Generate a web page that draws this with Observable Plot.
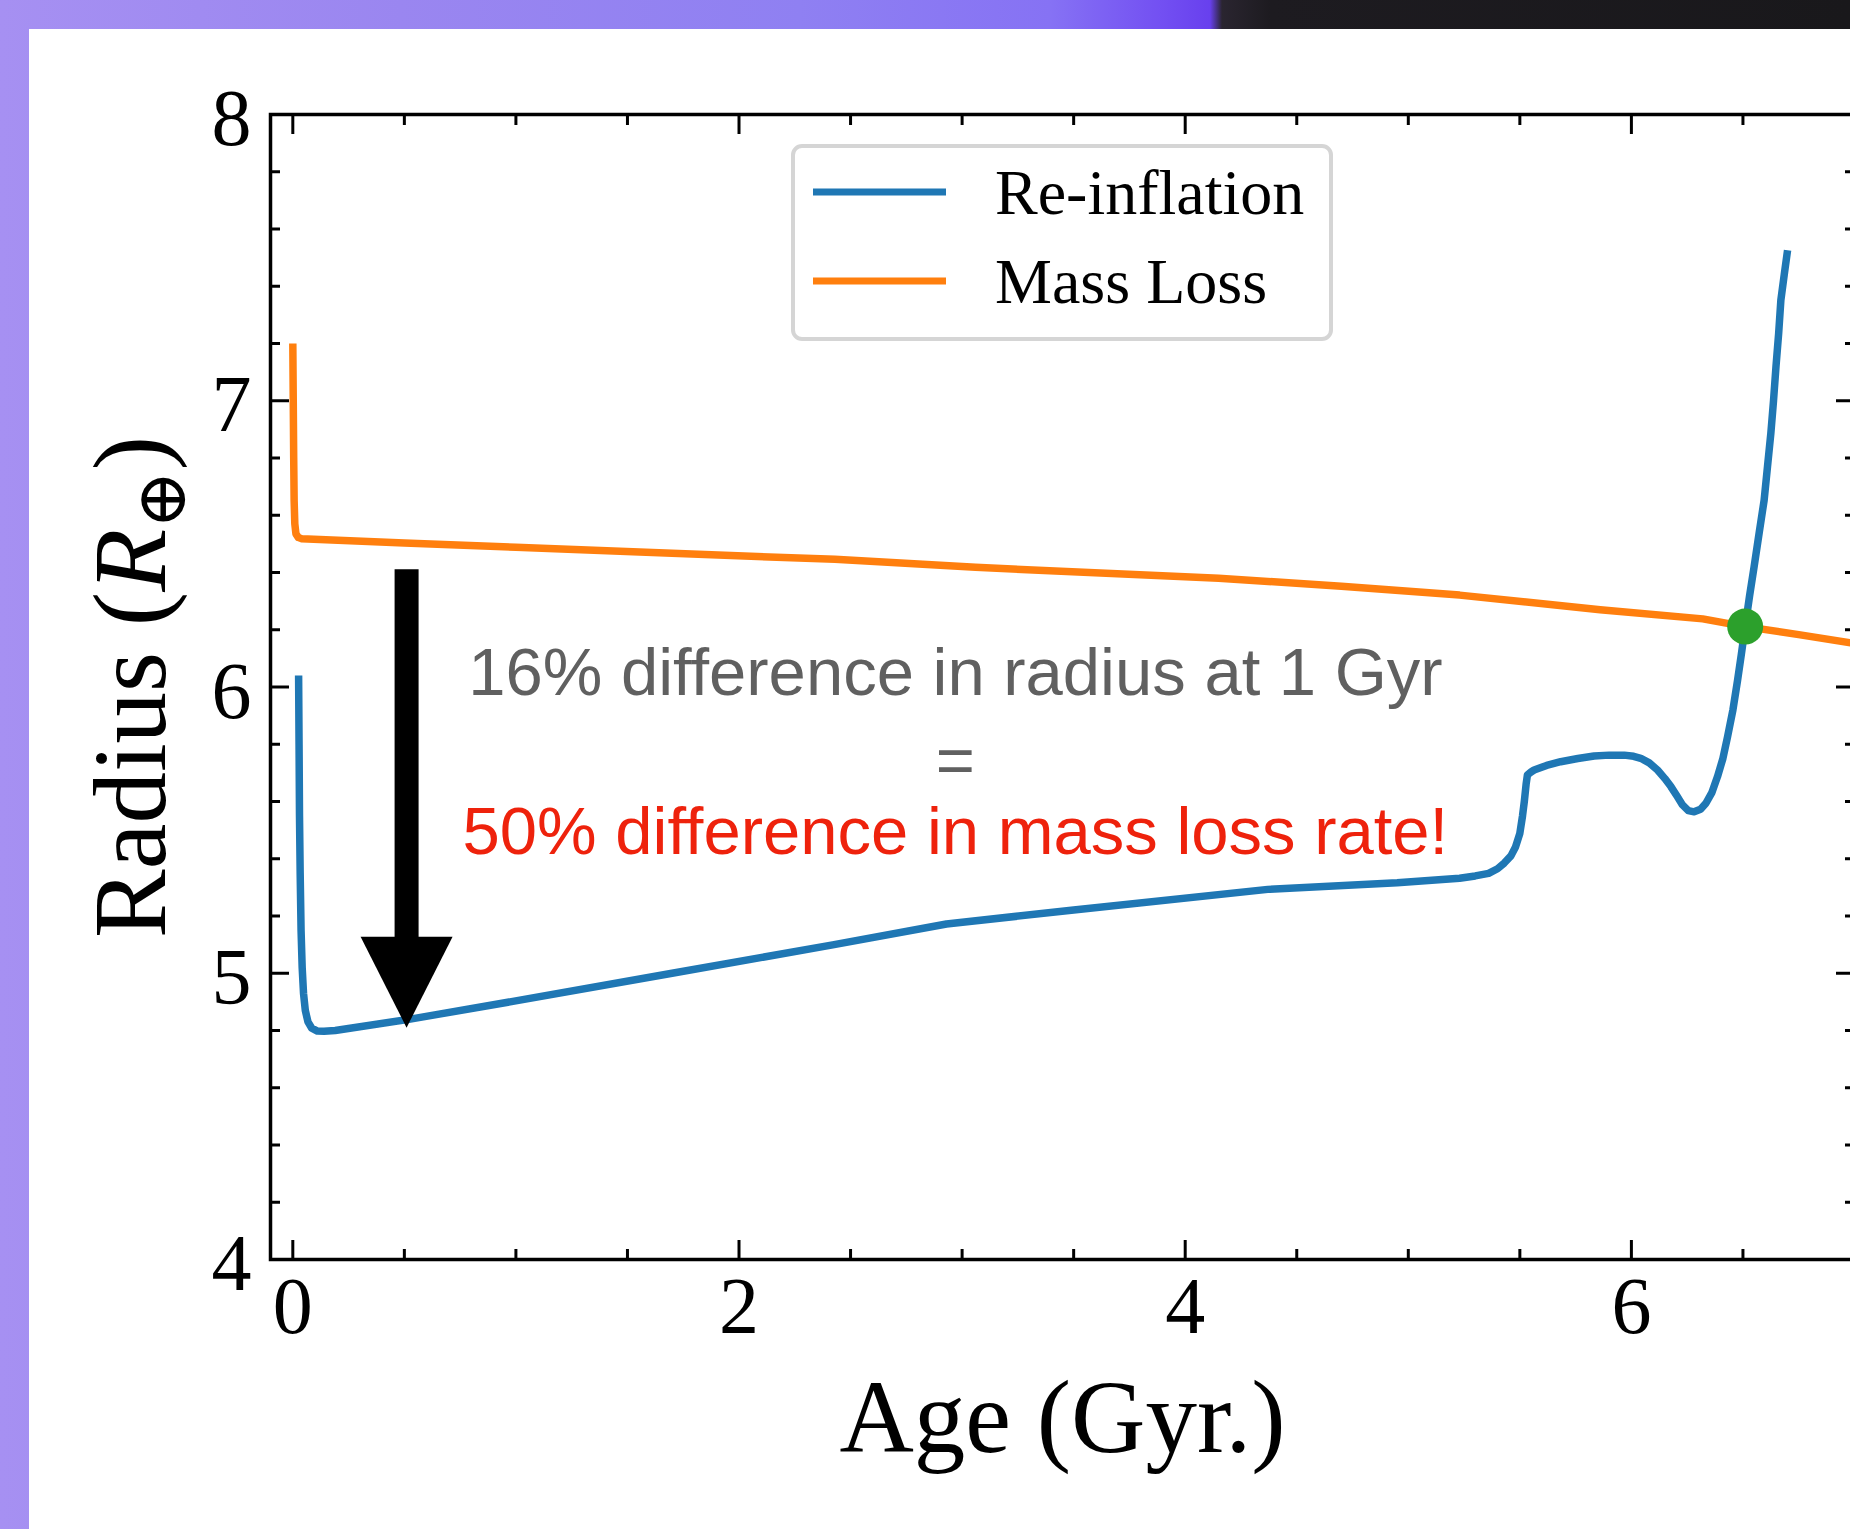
<!DOCTYPE html>
<html>
<head>
<meta charset="utf-8">
<script src="https://cdn.jsdelivr.net/npm/d3@7"></script>
<script src="https://cdn.jsdelivr.net/npm/@observablehq/plot@0.6"></script>
<style>
  html, body { margin: 0; padding: 0; width: 1850px; height: 1529px; overflow: hidden; }
  body {
    position: relative;
    background: linear-gradient(to right, #a690f2 0px, #9a86f0 400px, #8f80f2 800px, #8672f4 1050px, #7350f2 1160px, #6840ee 1210px, #2a2530 1222px, #1d1b20 1270px, #19181b 1850px);
  }
  #panel { position: absolute; left: 29px; top: 29px; right: 0; bottom: 0; background: #ffffff; }
  #chart { position: absolute; left: 0; top: 0; }
</style>
</head>
<body>
<div id="panel"></div>
<div id="chart"></div>
<script>
// ---------------- data ----------------
const reinflationAge = [0.026, 0.028, 0.030, 0.033, 0.037, 0.042, 0.048, 0.056, 0.068, 0.085, 0.11, 0.14, 0.19,
  0.52, 0.98, 1.70, 2.42, 2.93, 3.50, 4.37, 4.95, 5.23, 5.30, 5.36, 5.40, 5.43, 5.46, 5.48, 5.50, 5.512, 5.52, 5.528,
  5.534, 5.55, 5.564, 5.62, 5.683, 5.76, 5.833, 5.90, 5.968, 6.01, 6.042, 6.08, 6.117, 6.15, 6.177, 6.205, 6.229,
  6.255, 6.281, 6.31, 6.334, 6.36, 6.386, 6.41, 6.431, 6.455, 6.476, 6.493, 6.510, 6.530, 6.550, 6.573, 6.595,
  6.610, 6.625, 6.637, 6.648, 6.660, 6.670, 6.685, 6.700];
const reinflationRadius = [6.04, 5.80, 5.55, 5.35, 5.15, 5.02, 4.93, 4.87, 4.83, 4.808, 4.798, 4.797, 4.800,
  4.839, 4.901, 5.000, 5.099, 5.172, 5.221, 5.293, 5.316, 5.332, 5.340, 5.349, 5.365, 5.385, 5.41, 5.44, 5.489, 5.55, 5.60, 5.66,
  5.693, 5.703, 5.710, 5.726, 5.739, 5.750, 5.759, 5.762, 5.762, 5.758, 5.751, 5.735, 5.710, 5.680, 5.652, 5.618, 5.588,
  5.568, 5.564, 5.573, 5.594, 5.630, 5.687, 5.750, 5.826, 5.920, 6.024, 6.115, 6.211, 6.320, 6.420, 6.540, 6.653,
  6.770, 6.886, 7.000, 7.119, 7.235, 7.352, 7.440, 7.526];

const massLossAge = [0.000, 0.002, 0.004, 0.006, 0.009, 0.014, 0.025, 0.04, 0.5, 1.0, 1.70, 2.43, 3.06, 4.15, 4.70,
  5.23, 5.86, 6.32, 6.51, 6.75, 7.0];
const massLossRadius = [7.20, 7.00, 6.80, 6.65, 6.57, 6.535, 6.522, 6.518, 6.503, 6.488, 6.467, 6.446, 6.418, 6.380, 6.352,
  6.321, 6.270, 6.238, 6.211, 6.183, 6.152];

const seriesNames = ["Re-inflation", "Mass Loss"];
const seriesColors = ["#1f77b4", "#ff7f0e"];

const crossingAge = [6.51];
const crossingRadius = [6.211];

const arrowAge = [0.51];
const arrowFrom = [6.41];
const arrowTo = [4.81];

const annotationLines = ["16% difference in radius at 1 Gyr", "=", "50% difference in mass loss rate!"];
const annotationAge = [2.97, 2.97, 2.97];
const annotationRadius = [5.972, 5.665, 5.417];
const annotationColors = ["#606060", "#606060", "#ee220c"];

const xMajorTicks = [0, 2, 4, 6];
const xMinorTicks = [0.5, 1, 1.5, 2.5, 3, 3.5, 4.5, 5, 5.5, 6.5, 7];
const yMajorTicks = [4, 5, 6, 7, 8];
const yMinorTicks = [4.2, 4.4, 4.6, 4.8, 5.2, 5.4, 5.6, 5.8, 6.2, 6.4, 6.6, 6.8, 7.2, 7.4, 7.6, 7.8];

const xLabel = "Age (Gyr.)";
const yLabelParts = ["Radius (", "R", "\u2295", ")"];

// ---------------- build ----------------
const serif = "'Liberation Serif', 'DejaVu Serif', serif";
const sans = "'Liberation Sans', Arial, Helvetica, sans-serif";

const reinflation = reinflationAge.map((a, i) => ({age: a, radius: reinflationRadius[i]}));
const massLoss = massLossAge.map((a, i) => ({age: a, radius: massLossRadius[i]}));
const crossing = crossingAge.map((a, i) => ({age: a, radius: crossingRadius[i]}));
const arrows = arrowAge.map((a, i) => ({age: a, from: arrowFrom[i], to: arrowTo[i]}));
const annotations = annotationLines.map((t, i) => ({text: t, age: annotationAge[i], radius: annotationRadius[i], color: annotationColors[i]}));

const arrowHead = {
  draw(context) {
    context.moveTo(0, 0);
    context.lineTo(-46, -91);
    context.lineTo(46, -91);
    context.closePath();
  }
};

const tickStyle = {stroke: "black", strokeWidth: 3, fill: "none", label: null};

const plot = Plot.plot({
  width: 1854,
  height: 1529,
  marginLeft: 270,
  marginRight: 0,
  marginTop: 114,
  marginBottom: 270,
  style: "background: transparent; max-width: none; overflow: visible; color: black;",
  x: {domain: [-0.1, 7.0]},
  y: {domain: [4, 8]},
  marks: [
    Plot.line(massLoss, {x: "age", y: "radius", stroke: seriesColors[1], strokeWidth: 7.5, strokeLinecap: "butt", strokeLinejoin: "round"}),
    Plot.line(reinflation, {x: "age", y: "radius", stroke: seriesColors[0], strokeWidth: 7.5, strokeLinecap: "butt", strokeLinejoin: "round"}),
    Plot.dot(crossing, {x: "age", y: "radius", r: 18, fill: "#2ca02c", stroke: "none"}),
    Plot.ruleX(arrows, {x: "age", y1: "from", y2: d => d.to + 0.2, stroke: "black", strokeWidth: 24, strokeLinecap: "butt"}),
    Plot.dot(arrows, {x: "age", y: "to", symbol: arrowHead, fill: "black", stroke: "none"}),
    ...annotations.map(a => Plot.text([a], {x: "age", y: "radius", text: "text", fill: a.color, fontSize: 67, fontFamily: sans, lineAnchor: "bottom", textAnchor: "middle"})),
    Plot.text([xLabel], {text: d => d, frameAnchor: "bottom", lineAnchor: "bottom", dy: 192, fontSize: 103, fontFamily: serif, fill: "black"}),
    Plot.frame({stroke: "black", strokeWidth: 3.5}),
    ...["bottom", "top"].flatMap(a => [
      Plot.axisX(xMajorTicks, {anchor: a, tickSize: -19, ...tickStyle}),
      Plot.axisX(xMinorTicks, {anchor: a, tickSize: -10, ...tickStyle})
    ]),
    ...["left", "right"].flatMap(a => [
      Plot.axisY(yMajorTicks, {anchor: a, tickSize: -19, ...tickStyle}),
      Plot.axisY(yMinorTicks, {anchor: a, tickSize: -10, ...tickStyle})
    ]),
    Plot.axisX(xMajorTicks, {anchor: "bottom", tickSize: 0, tickPadding: 17, fontSize: 80, fontFamily: serif, fill: "black", label: null, tickFormat: d => String(d)}),
    Plot.axisY(yMajorTicks, {anchor: "left", tickSize: 0, tickPadding: 19, dy: 5, fontSize: 80, fontFamily: serif, fill: "black", label: null, tickFormat: d => String(d)})
  ]
});

document.getElementById("chart").appendChild(plot);

// ---------------- y label with subscript ----------------
const svg = d3.select(plot);
const yl = svg.append("text")
  .attr("transform", "translate(165,687) rotate(-90)")
  .attr("text-anchor", "middle")
  .attr("font-family", serif)
  .attr("font-size", 103)
  .attr("fill", "black");
yl.append("tspan").text(yLabelParts[0]);
yl.append("tspan").attr("font-style", "italic").text(yLabelParts[1]);
yl.append("tspan").attr("font-size", 70).attr("dy", 20).text(yLabelParts[2]);
yl.append("tspan").attr("dy", -20).text(yLabelParts[3]);

// ---------------- legend ----------------
const lg = svg.append("g").attr("class", "legend");
lg.append("rect")
  .attr("x", 793).attr("y", 146).attr("width", 538).attr("height", 193)
  .attr("rx", 9).attr("ry", 9)
  .attr("fill", "white").attr("fill-opacity", 0.9)
  .attr("stroke", "#d5d5d5").attr("stroke-width", 4);
const rowsY = [192, 281];
seriesNames.forEach((name, i) => {
  lg.append("line")
    .attr("x1", 813).attr("x2", 946).attr("y1", rowsY[i]).attr("y2", rowsY[i])
    .attr("stroke", seriesColors[i]).attr("stroke-width", 7);
  lg.append("text")
    .attr("x", 995).attr("y", rowsY[i] + 22)
    .attr("text-anchor", "start")
    .attr("font-family", serif).attr("font-size", 64).attr("fill", "black")
    .text(name);
});
</script>
</body>
</html>
